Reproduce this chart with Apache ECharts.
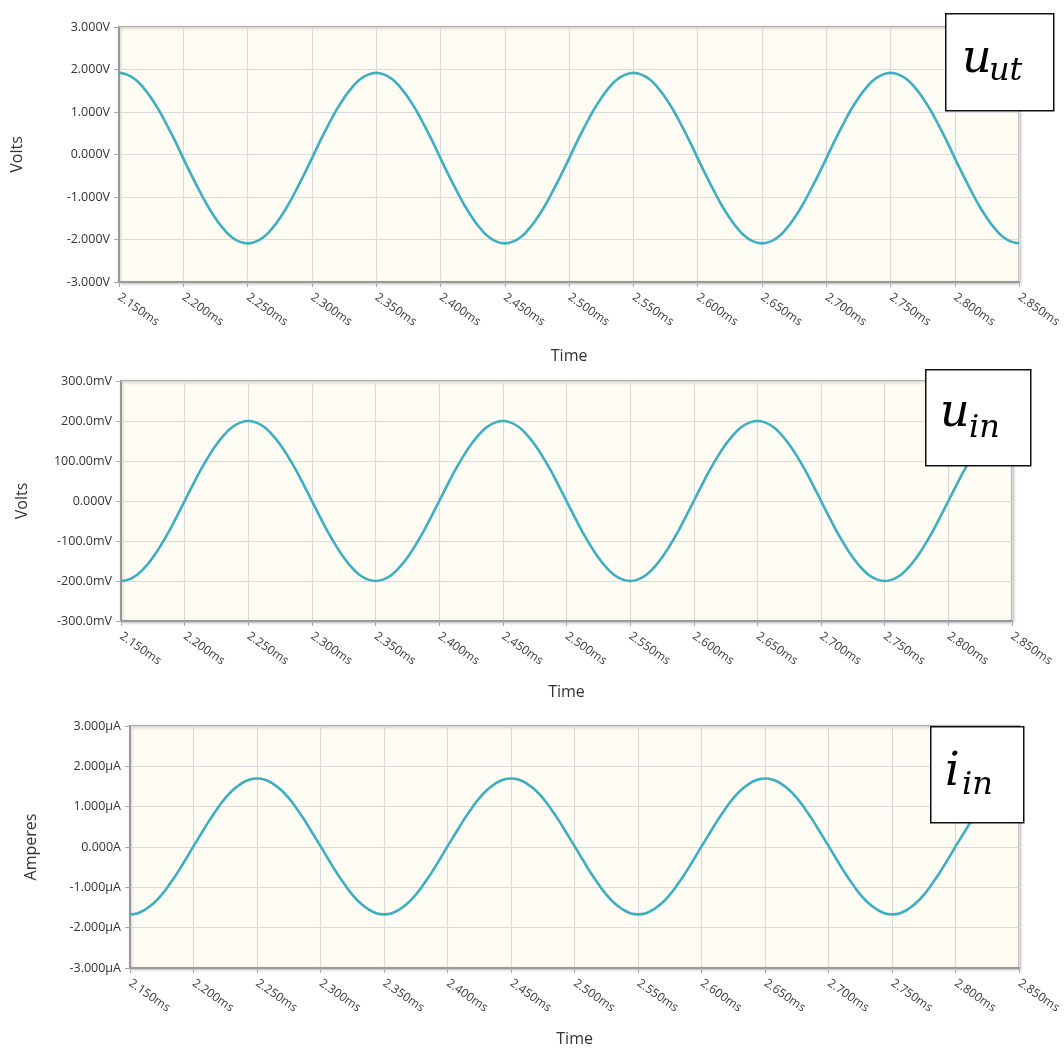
<!DOCTYPE html>
<html><head><meta charset="utf-8">
<script src="https://cdn.jsdelivr.net/npm/echarts@6/dist/echarts.min.js"></script>
<style>html,body{margin:0;padding:0;background:#fff}#c{width:1064px;height:1048px}</style>
</head><body><div id="c"></div>
<script>
// ---- data ----
const timeUs = [
  2150,2156.25,2162.5,2168.75,2175,2181.25,2187.5,2193.75,
  2200,2206.25,2212.5,2218.75,2225,2231.25,2237.5,2243.75,
  2250,2256.25,2262.5,2268.75,2275,2281.25,2287.5,2293.75,
  2300,2306.25,2312.5,2318.75,2325,2331.25,2337.5,2343.75,
  2350,2356.25,2362.5,2368.75,2375,2381.25,2387.5,2393.75,
  2400,2406.25,2412.5,2418.75,2425,2431.25,2437.5,2443.75,
  2450,2456.25,2462.5,2468.75,2475,2481.25,2487.5,2493.75,
  2500,2506.25,2512.5,2518.75,2525,2531.25,2537.5,2543.75,
  2550,2556.25,2562.5,2568.75,2575,2581.25,2587.5,2593.75,
  2600,2606.25,2612.5,2618.75,2625,2631.25,2637.5,2643.75,
  2650,2656.25,2662.5,2668.75,2675,2681.25,2687.5,2693.75,
  2700,2706.25,2712.5,2718.75,2725,2731.25,2737.5,2743.75,
  2750,2756.25,2762.5,2768.75,2775,2781.25,2787.5,2793.75,
  2800,2806.25,2812.5,2818.75,2825,2831.25,2837.5,2843.75,
  2850];
const uutVolts = [
  1.92,1.88,1.77,1.58,1.33,1.03,0.68,0.31,-0.09,-0.48,-0.85,-1.20,-1.50,-1.75,-1.94,-2.05,
  -2.09,-2.05,-1.94,-1.75,-1.50,-1.20,-0.85,-0.48,-0.09,0.31,0.68,1.03,1.33,1.58,1.77,1.88,
  1.92,1.88,1.77,1.58,1.33,1.03,0.68,0.31,-0.09,-0.48,-0.85,-1.20,-1.50,-1.75,-1.94,-2.05,
  -2.09,-2.05,-1.94,-1.75,-1.50,-1.20,-0.85,-0.48,-0.09,0.31,0.68,1.03,1.33,1.58,1.77,1.88,
  1.92,1.88,1.77,1.58,1.33,1.03,0.68,0.31,-0.09,-0.48,-0.85,-1.20,-1.50,-1.75,-1.94,-2.05,
  -2.09,-2.05,-1.94,-1.75,-1.50,-1.20,-0.85,-0.48,-0.09,0.31,0.68,1.03,1.33,1.58,1.77,1.88,
  1.92,1.88,1.77,1.58,1.33,1.03,0.68,0.31,-0.09,-0.48,-0.85,-1.20,-1.50,-1.75,-1.94,-2.05,
  -2.09];
const uinMilliVolts = [
  -200,-196,-185,-166,-141,-111,-77,-39,0,39,77,111,141,166,185,196,
  200,196,185,166,141,111,77,39,0,-39,-77,-111,-141,-166,-185,-196,
  -200,-196,-185,-166,-141,-111,-77,-39,0,39,77,111,141,166,185,196,
  200,196,185,166,141,111,77,39,0,-39,-77,-111,-141,-166,-185,-196,
  -200,-196,-185,-166,-141,-111,-77,-39,0,39,77,111,141,166,185,196,
  200,196,185,166,141,111,77,39,0,-39,-77,-111,-141,-166,-185,-196,
  -200,-196,-185,-166,-141,-111,-77,-39,0,39,77,111,141,166,185,196,
  200];
const iinMicroAmps = [
  -1.67,-1.64,-1.54,-1.39,-1.18,-0.92,-0.63,-0.31,0.02,0.34,0.66,0.95,1.21,1.42,1.57,1.67,
  1.70,1.67,1.57,1.42,1.21,0.95,0.66,0.34,0.02,-0.31,-0.63,-0.92,-1.18,-1.39,-1.54,-1.64,
  -1.67,-1.64,-1.54,-1.39,-1.18,-0.92,-0.63,-0.31,0.02,0.34,0.66,0.95,1.21,1.42,1.57,1.67,
  1.70,1.67,1.57,1.42,1.21,0.95,0.66,0.34,0.02,-0.31,-0.63,-0.92,-1.18,-1.39,-1.54,-1.64,
  -1.67,-1.64,-1.54,-1.39,-1.18,-0.92,-0.63,-0.31,0.02,0.34,0.66,0.95,1.21,1.42,1.57,1.67,
  1.70,1.67,1.57,1.42,1.21,0.95,0.66,0.34,0.02,-0.31,-0.63,-0.92,-1.18,-1.39,-1.54,-1.64,
  -1.67,-1.64,-1.54,-1.39,-1.18,-0.92,-0.63,-0.31,0.02,0.34,0.66,0.95,1.21,1.42,1.57,1.67,
  1.70];
const xTickLabels = ['2.150ms','2.200ms','2.250ms','2.300ms','2.350ms','2.400ms','2.450ms','2.500ms',
  '2.550ms','2.600ms','2.650ms','2.700ms','2.750ms','2.800ms','2.850ms'];
const uutTickLabels = ['-3.000V','-2.000V','-1.000V','0.000V','1.000V','2.000V','3.000V'];
const uinTickLabels = ['-300.0mV','-200.0mV','-100.0mV','0.000V','100.00mV','200.0mV','300.0mV'];
const iinTickLabels = ['-3.000µA','-2.000µA','-1.000µA','0.000A','1.000µA','2.000µA','3.000µA'];
const yTitles = ['Volts','Volts','Amperes'];
const xTitle = 'Time';
const boxLabels = [['u','ut'],['u','in'],['i','in']];

// ---- layout / styling ----
const FONT = '"Open Sans", "Noto Sans", sans-serif';
const LINE = '#3DAFC1';
const grids = [
  {left:119, top:27, width:901, height:255, yMin:-3, yMax:3, yInt:1, labels:uutTickLabels, data:uutVolts, nameGap:94, xNameGap:66},
  {left:121, top:381, width:891, height:240, yMin:-300, yMax:300, yInt:100, labels:uinTickLabels, data:uinMilliVolts, nameGap:91, xNameGap:63},
  {left:130, top:726, width:891, height:242, yMin:-3, yMax:3, yInt:1, labels:iinTickLabels, data:iinMicroAmps, nameGap:91, xNameGap:63}
];
const chart = echarts.init(document.getElementById('c'), null, {renderer:'canvas'});
const option = {
  backgroundColor:'#ffffff',
  animation:false,
  grid: grids.map(g => ({left:g.left, top:g.top, width:g.width, height:g.height, show:true,
    backgroundColor:'#FFFCF4', borderColor:'#9c9c9c', borderWidth:1.5,
    shadowColor:'rgba(0,0,0,0.25)', shadowBlur:3, shadowOffsetX:1, shadowOffsetY:1})),
  xAxis: grids.map((g,i) => ({type:'value', gridIndex:i, min:2150, max:2850, interval:50,
    name:xTitle, nameLocation:'middle', nameGap:g.xNameGap,
    nameTextStyle:{fontFamily:FONT, fontSize:16, color:'#333', fontWeight:500},
    axisLine:{show:true, onZero:false, lineStyle:{color:'#999', width:2}},
    axisTick:{show:true, length:5, lineStyle:{color:'#aaa'}},
    splitLine:{show:true, lineStyle:{color:'#dadada', width:1.2}},
    axisLabel:{rotate:-35, margin:14, fontFamily:FONT, fontSize:12, color:'#3a3a3a',
      formatter: v => xTickLabels[Math.round((v-2150)/50)] || ''}})),
  yAxis: grids.map((g,i) => ({type:'value', gridIndex:i, min:g.yMin, max:g.yMax, interval:g.yInt,
    name:yTitles[i], nameLocation:'middle', nameGap:g.nameGap, nameRotate:90,
    nameTextStyle:{fontFamily:FONT, fontSize:16, color:'#333', fontWeight:500},
    axisLine:{show:true, onZero:false, lineStyle:{color:'#999', width:2}},
    axisTick:{show:true, length:5, lineStyle:{color:'#aaa'}},
    splitLine:{show:true, lineStyle:{color:'#dadada', width:1.2}},
    axisLabel:{margin:9, fontFamily:FONT, fontSize:12.5, color:'#333',
      formatter: v => g.labels[Math.round((v-g.yMin)/g.yInt)] || ''}})),
  series: grids.map((g,i) => ({type:'line', xAxisIndex:i, yAxisIndex:i, smooth:true, symbol:'none',
    lineStyle:{color:LINE, width:2.6}, data: timeUs.map((t,k)=>[t, g.data[k]]), z:3})),
  graphic: []
};
// label boxes
const boxes = [
  {x:945, y:13, w:108, h:97, mx:962, my:60, sx:989, sy:72},
  {x:925, y:369, w:105, h:96, mx:940, my:414, sx:969, sy:429},
  {x:930, y:726, w:93, h:96, mx:945, my:773, sx:962, sy:786}
];
boxes.forEach((b,i) => {
  option.graphic.push({type:'rect', left:b.x, top:b.y, shape:{width:b.w, height:b.h}, z:100,
    style:{fill:'#fff', stroke:'#111', lineWidth:1.5}});
  option.graphic.push({type:'text', x:b.mx, y:b.my, z:101, style:{text:boxLabels[i][0],
    font:'italic 46px "DejaVu Serif", "Liberation Serif", serif', fill:'#000', textVerticalAlign:'middle'}});
  option.graphic.push({type:'text', x:b.sx, y:b.sy, z:101, style:{text:boxLabels[i][1],
    font:'italic 32px "DejaVu Serif", "Liberation Serif", serif', fill:'#000', textVerticalAlign:'middle'}});
});
chart.setOption(option);
</script></body></html>
